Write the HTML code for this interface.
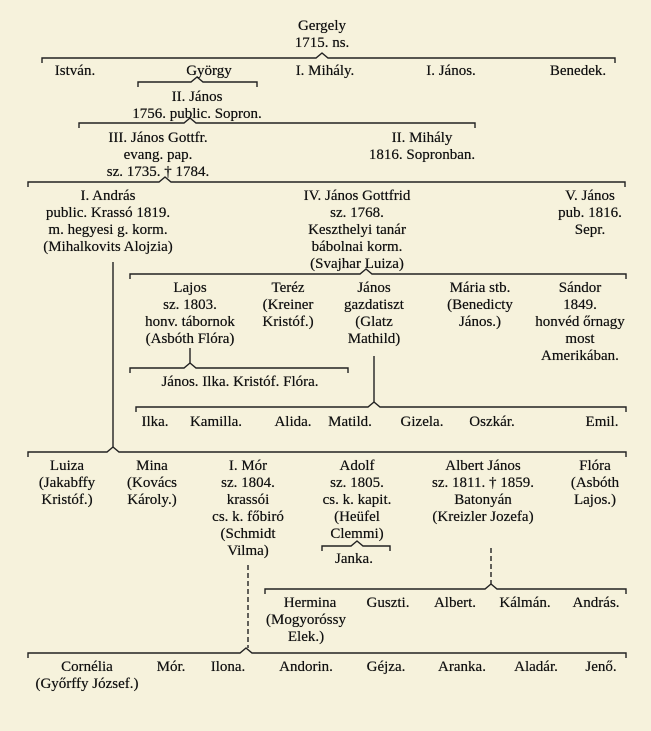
<!DOCTYPE html>
<html><head><meta charset="utf-8"><style>
body{margin:0;width:651px;height:731px;background:#f6f2dc;overflow:hidden;position:relative;font-family:"Liberation Serif",serif;font-size:15px;color:#111;}
.t{position:absolute;width:220px;text-align:center;line-height:17px;white-space:nowrap;transform:translateX(-110px);text-shadow:0 0 0.4px #111;}
svg{position:absolute;left:0;top:0}
</style></head><body>
<svg width="651" height="731" stroke="#222" stroke-width="1.4" fill="none">
<path d="M42 63V58H316l6-5 6 5H615V63"/>
<path d="M138 87V82H191l6-5 6 5H257V87"/>
<path d="M79 128V123H184l6-5 6 5H475V128"/>
<path d="M28 187V182H159l6-5 6 5H625V187"/>
<path d="M113 262V448"/>
<path d="M130 279V274H360l6-5 6 5H626V279"/>
<path d="M190 348V364"/>
<path d="M130 373V368H184l6-5 6 5H348V373"/>
<path d="M374 356V402"/>
<path d="M136 412V407H368l6-5 6 5H626V412"/>
<path d="M28 457V452H107l6-5 6 5H626V457"/>
<path d="M322 551V546H351l6-5 6 5H390V551"/>
<path d="M491 548V584" stroke-dasharray="5 3"/>
<path d="M265 594V589H485l6-5 6 5H626V594"/>
<path d="M248 565V648" stroke-dasharray="5 3"/>
<path d="M28 658V653H240l6-5 6 5H626V658"/>
</svg>
<div class="t" style="left:322px;top:18px">Gergely<br>1715. ns.</div>
<div class="t" style="left:75px;top:63px">István.</div>
<div class="t" style="left:209px;top:63px">György</div>
<div class="t" style="left:325px;top:63px">I. Mihály.</div>
<div class="t" style="left:451px;top:63px">I. János.</div>
<div class="t" style="left:578px;top:63px">Benedek.</div>
<div class="t" style="left:197px;top:89px">II. János<br>1756. public. Sopron.</div>
<div class="t" style="left:158px;top:130px">III. János Gottfr.<br>evang. pap.<br>sz. 1735. † 1784.</div>
<div class="t" style="left:422px;top:130px">II. Mihály<br>1816. Sopronban.</div>
<div class="t" style="left:108px;top:188px">I. András<br>public. Krassó 1819.<br>m. hegyesi g. korm.<br>(Mihalkovits Alojzia)</div>
<div class="t" style="left:357px;top:188px">IV. János Gottfrid<br>sz. 1768.<br>Keszthelyi tanár<br>bábolnai korm.<br>(Svajhar Luiza)</div>
<div class="t" style="left:590px;top:188px">V. János<br>pub. 1816.<br>Sepr.</div>
<div class="t" style="left:190px;top:280px">Lajos<br>sz. 1803.<br>honv. tábornok<br>(Asbóth Flóra)</div>
<div class="t" style="left:288px;top:280px">Teréz<br>(Kreiner<br>Kristóf.)</div>
<div class="t" style="left:374px;top:280px">János<br>gazdatiszt<br>(Glatz<br>Mathild)</div>
<div class="t" style="left:480px;top:280px">Mária stb.<br>(Benedicty<br>János.)</div>
<div class="t" style="left:580px;top:280px">Sándor<br>1849.<br>honvéd őrnagy<br>most<br>Amerikában.</div>
<div class="t" style="left:240px;top:374px">János. Ilka. Kristóf. Flóra.</div>
<div class="t" style="left:155px;top:414px">Ilka.</div>
<div class="t" style="left:216px;top:414px">Kamilla.</div>
<div class="t" style="left:293px;top:414px">Alida.</div>
<div class="t" style="left:350px;top:414px">Matild.</div>
<div class="t" style="left:422px;top:414px">Gizela.</div>
<div class="t" style="left:492px;top:414px">Oszkár.</div>
<div class="t" style="left:602px;top:414px">Emil.</div>
<div class="t" style="left:67px;top:458px">Luiza<br>(Jakabffy<br>Kristóf.)</div>
<div class="t" style="left:152px;top:458px">Mina<br>(Kovács<br>Károly.)</div>
<div class="t" style="left:248px;top:458px">I. Mór<br>sz. 1804.<br>krassói<br>cs. k. főbiró<br>(Schmidt<br>Vilma)</div>
<div class="t" style="left:357px;top:458px">Adolf<br>sz. 1805.<br>cs. k. kapit.<br>(Heüfel<br>Clemmi)</div>
<div class="t" style="left:483px;top:458px">Albert János<br>sz. 1811. † 1859.<br>Batonyán<br>(Kreizler Jozefa)</div>
<div class="t" style="left:595px;top:458px">Flóra<br>(Asbóth<br>Lajos.)</div>
<div class="t" style="left:354px;top:551px">Janka.</div>
<div class="t" style="left:310px;top:595px">Hermina</div>
<div class="t" style="left:306px;top:612px">(Mogyoróssy<br>Elek.)</div>
<div class="t" style="left:388px;top:595px">Guszti.</div>
<div class="t" style="left:455px;top:595px">Albert.</div>
<div class="t" style="left:525px;top:595px">Kálmán.</div>
<div class="t" style="left:596px;top:595px">András.</div>
<div class="t" style="left:87px;top:659px">Cornélia<br>(Győrffy József.)</div>
<div class="t" style="left:171px;top:659px">Mór.</div>
<div class="t" style="left:228px;top:659px">Ilona.</div>
<div class="t" style="left:306px;top:659px">Andorin.</div>
<div class="t" style="left:386px;top:659px">Géjza.</div>
<div class="t" style="left:462px;top:659px">Aranka.</div>
<div class="t" style="left:536px;top:659px">Aladár.</div>
<div class="t" style="left:601px;top:659px">Jenő.</div>
</body></html>
